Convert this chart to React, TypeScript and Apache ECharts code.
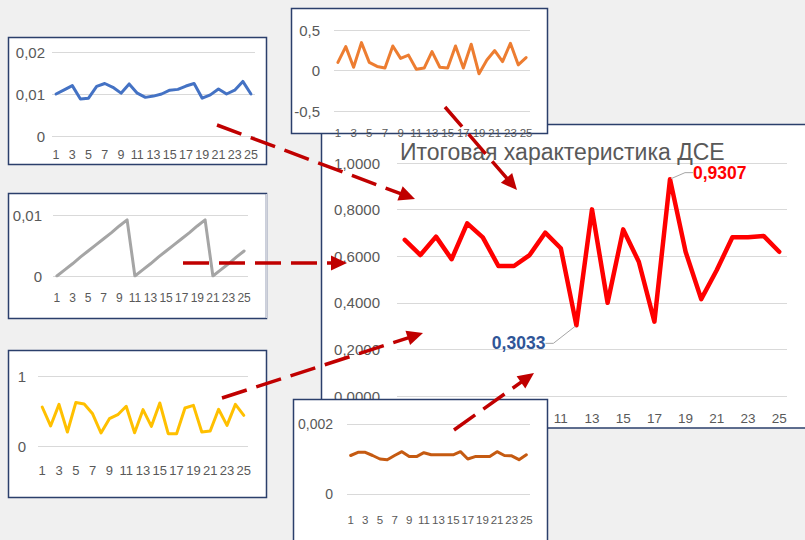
import React, { useEffect, useRef } from "react";
import * as echarts from "echarts";

// ---------- data ----------
const categories = ["1", "2", "3", "4", "5", "6", "7", "8", "9", "10", "11", "12", "13", "14", "15", "16", "17", "18", "19", "20", "21", "22", "23", "24", "25"];

const mainTitle = "Итоговая характеристика ДСЕ";
const mainValues = [0.670, 0.605, 0.684, 0.587, 0.741, 0.681, 0.558, 0.558, 0.605, 0.701, 0.634, 0.3033, 0.801, 0.400, 0.715, 0.576, 0.319, 0.9307, 0.619, 0.416, 0.541, 0.681, 0.681, 0.687, 0.619];
const mainTicks = { min: 0, max: 1, interval: 0.2 };

const blueValues = [0.0100, 0.0110, 0.0120, 0.0088, 0.0090, 0.0118, 0.0125, 0.0116, 0.0102, 0.0124, 0.0102, 0.0092, 0.0095, 0.0100, 0.0109, 0.0111, 0.0119, 0.0125, 0.0090, 0.0098, 0.0112, 0.0100, 0.0109, 0.0130, 0.0100];
const blueTicks = { min: 0, max: 0.02, interval: 0.01 };

const grayValues = [0, 0.0010, 0.0020, 0.0031, 0.0041, 0.0051, 0.0061, 0.0071, 0.0082, 0.0092, 0, 0.0010, 0.0020, 0.0031, 0.0041, 0.0051, 0.0061, 0.0071, 0.0082, 0.0092, 0, 0.0010, 0.0020, 0.0031, 0.0041];
const grayTicks = { min: 0, max: 0.01, interval: 0.01 };

const yellowValues = [0.557, 0.286, 0.595, 0.200, 0.620, 0.600, 0.460, 0.186, 0.390, 0.447, 0.567, 0.190, 0.519, 0.281, 0.614, 0.176, 0.176, 0.543, 0.581, 0.200, 0.214, 0.524, 0.295, 0.595, 0.438];
const yellowTicks = { min: 0, max: 1, interval: 1 };

const orangeValues = [0.10, 0.295, 0.04, 0.344, 0.10, 0.05, 0.03, 0.303, 0.15, 0.19, 0.016, 0.03, 0.234, 0.04, 0.03, 0.303, 0.03, 0.324, -0.04, 0.13, 0.246, 0.11, 0.336, 0.07, 0.16];
const orangeTicks = { min: -0.5, max: 0.5, interval: 0.5 };

const brownValues = [0.00110, 0.00119, 0.00119, 0.00110, 0.00100, 0.00098, 0.00110, 0.00121, 0.00107, 0.00107, 0.00118, 0.00112, 0.00112, 0.00112, 0.00112, 0.00121, 0.00100, 0.00107, 0.00107, 0.00107, 0.00121, 0.00110, 0.00109, 0.00098, 0.00112];
const brownTicks = { min: 0, max: 0.002, interval: 0.002 };

// ---------- styles / layout ----------
const NAVY = "#2b3f6b";
const LABEL = "#595959";
const GRIDC = "#d9d9d9";
const SANS = "'Liberation Sans', Arial, sans-serif";
const ARROW = "#c00000";

const fmt4 = (v: number) => v.toFixed(4).replace(".", ",");
const fmtSmall = (v: number) => (v === 0 ? "0" : String(parseFloat(v.toPrecision(6))).replace(".", ","));

type Panel = {
  values: number[];
  ticks: { min: number; max: number; interval: number };
  color: string;
  box: [number, number, number, number];
  grid: { left: number; top: number; width: number; height: number };
  yFont: number;
  yMargin: number;
  xFont: number;
  xMargin: number;
};

const panels: Panel[] = [
  { values: blueValues, ticks: blueTicks, color: "#4472c4", box: [8, 37, 258, 127], grid: { left: 52, top: 52, width: 203, height: 84 }, yFont: 15, yMargin: 7, xFont: 12.5, xMargin: 12 },
  { values: grayValues, ticks: grayTicks, color: "#a5a5a5", box: [8, 193, 258, 125], grid: { left: 53, top: 215, width: 195, height: 61 }, yFont: 15, yMargin: 11, xFont: 12, xMargin: 16 },
  { values: yellowValues, ticks: yellowTicks, color: "#ffc000", box: [8, 350, 258, 147], grid: { left: 38, top: 376, width: 210, height: 70 }, yFont: 15, yMargin: 12, xFont: 13, xMargin: 18 },
  { values: orangeValues, ticks: orangeTicks, color: "#ed7d31", box: [291, 8, 256, 125], grid: { left: 334, top: 30, width: 196, height: 81 }, yFont: 15, yMargin: 14, xFont: 11.5, xMargin: 16 },
  { values: brownValues, ticks: brownTicks, color: "#c55a11", box: [293, 399, 254, 150], grid: { left: 347, top: 424, width: 183, height: 70 }, yFont: 14, yMargin: 14, xFont: 11.5, xMargin: 20 },
];

const arrows: [number, number, number, number][] = [
  [217, 125, 415, 199],
  [445, 107, 517, 190],
  [183, 263, 347, 263],
  [222, 398, 423, 333],
  [454, 430, 534, 373],
];

function arrowEls(x1: number, y1: number, x2: number, y2: number) {
  const dx = x2 - x1, dy = y2 - y1;
  const L = Math.hypot(dx, dy);
  const ux = dx / L, uy = dy / L;
  const head = 16, hw = 7.5;
  const bx = x2 - ux * head, by = y2 - uy * head;
  return [
    { type: "line", z: 20, shape: { x1, y1, x2: bx + ux * 2, y2: by + uy * 2 }, style: { stroke: ARROW, lineWidth: 3.5, lineDash: [26, 10] } },
    { type: "polygon", z: 20, shape: { points: [[x2, y2], [bx - uy * hw, by + ux * hw], [bx + uy * hw, by - ux * hw]] }, style: { fill: ARROW } },
  ];
}

export default function App() {
  const ref = useRef<HTMLDivElement>(null);
  useEffect(() => {
    if (!ref.current) return;
    const chart = echarts.init(ref.current, undefined, { renderer: "svg" });

    const maxIdx = mainValues.indexOf(Math.max(...mainValues));
    const minIdx = mainValues.indexOf(Math.min(...mainValues));

    const grids: any[] = [{ left: 397, top: 163, width: 390, height: 233 }];
    const xAxes: any[] = [
      {
        type: "category", gridIndex: 0, data: categories, boundaryGap: true, z: 1,
        axisLine: { show: false }, axisTick: { show: false },
        axisLabel: { interval: 1, color: LABEL, fontSize: 13.5, fontFamily: SANS, margin: 15 },
      },
    ];
    const yAxes: any[] = [
      {
        type: "value", gridIndex: 0, ...mainTicks, z: 1,
        axisLine: { show: false }, axisTick: { show: false },
        splitLine: { lineStyle: { color: GRIDC, width: 1 } },
        axisLabel: { formatter: (v: number) => fmt4(v), color: LABEL, fontSize: 15, fontFamily: SANS, margin: 17 },
      },
    ];
    const series: any[] = [
      {
        type: "line", xAxisIndex: 0, yAxisIndex: 0, z: 3,
        showSymbol: true, showAllSymbol: true, symbol: "circle", symbolSize: 2,
        itemStyle: { color: "#ff0000" },
        lineStyle: { color: "#ff0000", width: 4.5, cap: "round", join: "round" },
        labelLine: { show: true, length2: 8, lineStyle: { color: "#a6a6a6", width: 1 } },
        labelLayout: (p: any) => {
          if (p.dataIndex === maxIdx) return { dx: 17, dy: -6.5 };
          if (p.dataIndex === minIdx) return { dx: -25, dy: 18 };
          return {};
        },
        data: mainValues.map((v, i) => {
          if (i === maxIdx || i === minIdx) {
            return {
              value: v,
              label: {
                show: true,
                position: i === maxIdx ? "right" : "left",
                distance: 5,
                formatter: (p: any) => fmt4(p.value),
                color: i === maxIdx ? "#ff0000" : "#2f5597",
                fontWeight: "bold",
                fontSize: 17.5,
                lineHeight: 18,
                fontFamily: SANS,
              },
            };
          }
          return v;
        }),
      },
    ];

    const elements: any[] = [
      { type: "rect", z: 0, shape: { x: 321.5, y: 124.5, width: 520, height: 303.5 }, style: { fill: "#ffffff", stroke: NAVY, lineWidth: 1.5 } },
    ];

    panels.forEach((p, k) => {
      const gi = k + 1;
      grids.push(p.grid);
      xAxes.push({
        type: "category", gridIndex: gi, data: categories, boundaryGap: true, z: 6,
        axisLine: { show: false, onZero: true }, axisTick: { show: false },
        axisLabel: { interval: 1, color: LABEL, fontSize: p.xFont, fontFamily: SANS, margin: p.xMargin, hideOverlap: false },
      });
      yAxes.push({
        type: "value", gridIndex: gi, ...p.ticks, z: 6,
        axisLine: { show: false }, axisTick: { show: false },
        splitLine: { lineStyle: { color: GRIDC, width: 1 } },
        axisLabel: { formatter: (v: number) => fmtSmall(v), color: LABEL, fontSize: p.yFont, fontFamily: SANS, margin: p.yMargin },
      });
      series.push({
        type: "line", xAxisIndex: gi, yAxisIndex: gi, z: 7, showSymbol: false,
        lineStyle: { color: p.color, width: 3, cap: "round", join: "round" },
        data: p.values,
      });
      const [bx, by, bw, bh] = p.box;
      elements.push({ type: "rect", z: 5, shape: { x: bx + 0.5, y: by + 0.5, width: bw, height: bh }, style: { fill: "#ffffff", stroke: NAVY, lineWidth: 1.5 } });
    });
    // light right edge of the gray panel
    elements.push({ type: "line", z: 5, shape: { x1: 266.5, y1: 194, x2: 266.5, y2: 318 }, style: { stroke: "#d0d3dc", lineWidth: 1.5 } });

    arrows.forEach((a) => elements.push(...arrowEls(a[0], a[1], a[2], a[3])));

    chart.setOption({
      animation: false,
      backgroundColor: "#f0f0f0",
      title: {
        text: mainTitle, left: 400, top: 141, padding: 0, z: 2,
        textStyle: { color: LABEL, fontSize: 23, lineHeight: 22, fontWeight: "normal", fontFamily: SANS },
      },
      grid: grids,
      xAxis: xAxes,
      yAxis: yAxes,
      series,
      graphic: { elements },
    });
    return () => chart.dispose();
  }, []);
  return <div ref={ref} style={{ position: "fixed", left: 0, top: 0, width: 805, height: 540 }} />;
}
